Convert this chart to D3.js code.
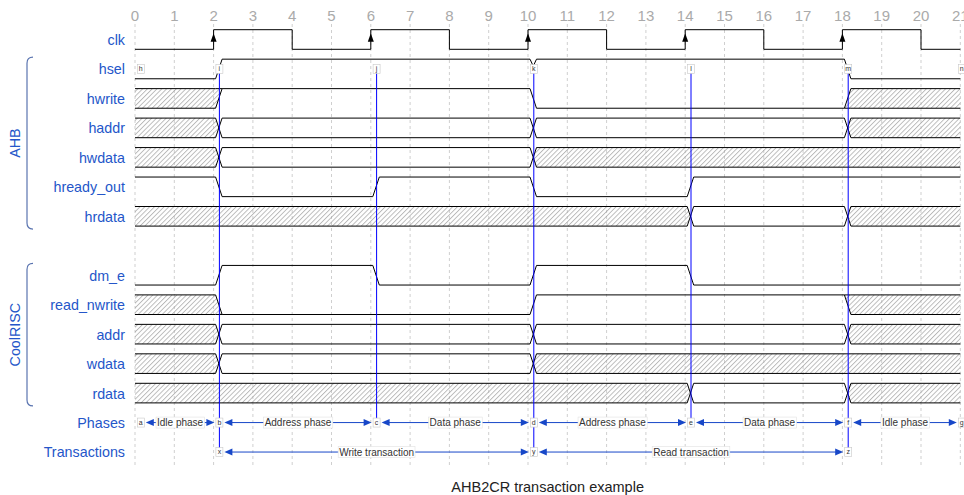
<!DOCTYPE html>
<html><head><meta charset="utf-8">
<script src="https://cdn.jsdelivr.net/npm/d3@7"></script>
<style>body{margin:0;background:#fff}svg{display:block;font-family:"Liberation Sans",Arial,Helvetica,sans-serif}</style>
</head><body><svg id="c" width="964" height="495"></svg>
<script>
// ---- data ----
const tickLabels = d3.range(0, 22);
const signalNames = ["clk","hsel","hwrite","haddr","hwdata","hready_out","hrdata","",
  "dm_e","read_nwrite","addr","wdata","rdata","Phases","Transactions"];
const waves = [
  "0.P.0.P.0.P.0.P.0.P.0",
  "0.1.......1.......0..",
  "x.1.......0.......x..",
  "x.=.......=.......x..",
  "x.=.......x..........",
  "1.0...1...0...1......",
  "x.............=...x..",
  "",
  "0.1...0...1...0......",
  "x.0.......1.......x..",
  "x.=.......=.......x..",
  "x.=.......x..........",
  "x.............=...x..",
  "",
  ""
];
const sharpRows = [0];
const groupNames = ["AHB", "CoolRISC"];
const groupFrom = [1, 8];
const groupTo = [6, 12];
// nodes: name, row, time
const nodeNames = ["h","i","j","k","l","m","n","a","b","c","d","e","f","g","x","y","z"];
const nodeRows  = [1,1,1,1,1,1,1,13,13,13,13,13,13,13,14,14,14];
const nodeTimes = [0,2,6,10,14,18,21,0,2,6,10,14,18,21,2,10,18];
const linkFrom = ["i","j","k","l","m"];
const linkTo   = ["x","c","y","e","z"];
const arrowFrom = ["a","b","c","d","e","f","x","y"];
const arrowTo   = ["b","c","d","e","f","g","y","z"];
const arrowText = ["Idle phase","Address phase","Data phase","Address phase","Data phase","Idle phase",
  "Write transaction","Read transaction"];
const title = "AHB2CR transaction example";

// ---- layout ----
const svg = d3.select("#c");
const xs = d3.scaleLinear().domain([0, 21]).range([135, 135 + 21 * 39.3]);
const ys = d3.scaleLinear().domain([0, 12]).range([29.7, 383.3]);
const amp = 19.6;
const labelColor = "#2456c9";

const defs = svg.append("defs");
const pat = defs.append("pattern").attr("id", "hatch").attr("patternUnits", "userSpaceOnUse")
  .attr("width", 3.4).attr("height", 10).attr("patternTransform", "rotate(45)");
pat.append("line").attr("x1", 0.5).attr("y1", 0).attr("x2", 0.5).attr("y2", 10)
  .attr("stroke", "#9a9a9a").attr("stroke-width", 0.7);

// grid
const grid = svg.append("g");
tickLabels.forEach(t => {
  grid.append("line").attr("x1", xs(t)).attr("x2", xs(t)).attr("y1", 24).attr("y2", 467)
    .attr("stroke", "#cfcfcf").attr("stroke-width", 1).attr("stroke-dasharray", "3,3");
  grid.append("text").attr("x", xs(t)).attr("y", 20.5).attr("text-anchor", "middle")
    .attr("font-size", 15).attr("fill", "#aaaaaa").text(t);
});

// labels
signalNames.forEach((n, i) => {
  if (!n) return;
  svg.append("text").attr("x", 125).attr("y", ys(i) + amp / 2).attr("dy", "0.38em")
    .attr("text-anchor", "end").attr("font-size", 14.3).attr("fill", labelColor).text(n);
});

// groups
groupNames.forEach((g, k) => {
  const y1 = ys(groupFrom[k]) - 2, y2 = ys(groupTo[k]) + amp + 3;
  svg.append("path").attr("d", `M33,${y1} Q27,${y1} 27,${y1 + 6} V${y2 - 6} Q27,${y2} 33,${y2}`)
    .attr("fill", "none").attr("stroke", "#5a74b0").attr("stroke-width", 1.2);
  const cy = (y1 + y2) / 2;
  svg.append("text").attr("transform", `translate(15,${cy}) rotate(-90)`).attr("dy", "0.36em")
    .attr("text-anchor", "middle").attr("font-size", 14.3).attr("fill", labelColor).text(g);
});

// waves
const wg = svg.append("g").attr("fill", "none").attr("stroke", "#000").attr("stroke-width", 1);
const isData = v => v === "x" || v === "=";
waves.forEach((w, row) => {
  if (!w) return;
  const sharp = sharpRows.includes(row);
  const T = ys(row), B = T + amp, C = T + amp / 2;
  const lvl = v => (v === "0" ? B : T);
  const segs = [];
  for (let i = 0; i < w.length; i++) {
    const c = w[i];
    if (c === ".") { segs[segs.length - 1].e = i + 1; continue; }
    segs.push({ s: i, e: i + 1, v: c });
  }
  const line = d3.line();
  segs.forEach((sg, k) => {
    const first = k === 0, last = k === segs.length - 1;
    const sx = first ? xs(0) : (sharp ? xs(sg.s) : xs(sg.s) + 8.5);
    const ex = last ? xs(21) : (sharp ? xs(sg.e) : xs(sg.e) + 2);
    if (sg.v === "x") {
      const prev = segs[k - 1], next = segs[k + 1];
      let pts = [];
      if (first) pts.push([xs(0), B], [xs(0), T]);
      else if (isData(prev.v)) pts.push([xs(sg.s) + 5.25, C]);
      else pts.push([xs(sg.s) + 2, lvl(prev.v)]);
      pts.push([sx, T], [ex, T]);
      if (last) pts.push([xs(21), T], [xs(21), B]);
      else if (isData(next.v)) pts.push([xs(sg.e) + 5.25, C]);
      else pts.push([xs(sg.e) + 8.5, lvl(next.v)]);
      pts.push([ex, B], [sx, B]);
      wg.append("path").attr("d", line(pts) + "Z").attr("fill", "url(#hatch)").attr("stroke", "none");
    }
    if (isData(sg.v)) {
      wg.append("path").attr("d", line([[sx, T], [ex, T]]));
      wg.append("path").attr("d", line([[sx, B], [ex, B]]));
    } else {
      wg.append("path").attr("d", line([[sx, lvl(sg.v)], [ex, lvl(sg.v)]]));
    }
    if (!first) {
      const p = segs[k - 1].v, t = sg.s;
      if (sharp) {
        wg.append("path").attr("d", line([[xs(t), lvl(p)], [xs(t), lvl(sg.v)]]));
        if (sg.v === "P") {
          wg.append("path").attr("d", line([[xs(t), T + 3.6], [xs(t) - 3, T + 12], [xs(t) + 3, T + 12]]) + "Z")
            .attr("fill", "#000").attr("stroke", "none");
        }
      } else {
        const xa = xs(t) + 2, xb = xs(t) + 8.5, xm = xs(t) + 5.25;
        if (isData(p) && isData(sg.v)) {
          wg.append("path").attr("d", line([[xa, T], [xb, B]]));
          wg.append("path").attr("d", line([[xa, B], [xb, T]]));
        } else if (isData(sg.v)) {
          wg.append("path").attr("d", line([[xa, lvl(p)], [xb, T]]));
          wg.append("path").attr("d", line([[xa, lvl(p)], [xb, B]]));
        } else if (isData(p)) {
          wg.append("path").attr("d", line([[xa, T], [xb, lvl(sg.v)]]));
          wg.append("path").attr("d", line([[xa, B], [xb, lvl(sg.v)]]));
        } else if (p === sg.v) {
          const d = sg.v === "0" ? -7 : 7;
          wg.append("path").attr("d", line([[xa, lvl(p)], [xm, lvl(p) + d], [xb, lvl(p)]]));
        } else {
          wg.append("path").attr("d", line([[xa, lvl(p)], [xb, lvl(sg.v)]]));
        }
      }
    }
  });
});

// nodes
const nodePos = {};
nodeNames.forEach((n, i) => {
  const t = nodeTimes[i];
  nodePos[n] = [t >= 21 ? xs(21) + 1.5 : xs(t) + 5.8, ys(nodeRows[i]) + amp / 2];
});

const eg = svg.append("g");
linkFrom.forEach((a, i) => {
  const p = nodePos[a], q = nodePos[linkTo[i]];
  eg.append("line").attr("x1", p[0]).attr("y1", p[1]).attr("x2", q[0]).attr("y2", q[1])
    .attr("stroke", "#0000ff").attr("stroke-width", 1);
});
const arrowColor = "#1747c8";
arrowFrom.forEach((a, i) => {
  const p = nodePos[a], q = nodePos[arrowTo[i]];
  const x1 = p[0] + 5, x2 = q[0] - 5, y = p[1];
  eg.append("line").attr("x1", x1 + 4).attr("x2", x2 - 4).attr("y1", y).attr("y2", y)
    .attr("stroke", arrowColor).attr("stroke-width", 1);
  eg.append("path").attr("d", `M${x1},${y} L${x1 + 8},${y - 3.5} L${x1 + 8},${y + 3.5} Z`).attr("fill", arrowColor);
  eg.append("path").attr("d", `M${x2},${y} L${x2 - 8},${y - 3.5} L${x2 - 8},${y + 3.5} Z`).attr("fill", arrowColor);
  const mx = (x1 + x2) / 2;
  const tx = eg.append("text").attr("x", mx).attr("y", y).attr("dy", "0.35em").attr("text-anchor", "middle")
    .attr("font-size", 10).attr("fill", "#333").text(arrowText[i]);
  const bb = tx.node().getBBox();
  eg.insert("rect", () => tx.node()).attr("x", bb.x - 1).attr("y", bb.y).attr("width", bb.width + 2)
    .attr("height", bb.height).attr("fill", "#fff").attr("stroke", "#e2e2e2").attr("stroke-width", 0.6);
});
nodeNames.forEach(n => {
  const [x, y] = nodePos[n];
  eg.append("rect").attr("x", x - 3.5).attr("y", y - 4.5).attr("width", 7).attr("height", 9)
    .attr("fill", "#fff").attr("stroke", "#c8c8c8").attr("stroke-width", 0.6);
  eg.append("text").attr("x", x).attr("y", y).attr("dy", "0.35em").attr("text-anchor", "middle")
    .attr("font-size", 7).attr("fill", "#333").text(n);
});

// title
svg.append("text").attr("x", (xs(0) + xs(21)) / 2).attr("y", 492).attr("text-anchor", "middle")
  .attr("font-size", 14.5).attr("fill", "#222").text(title);
</script></body></html>
